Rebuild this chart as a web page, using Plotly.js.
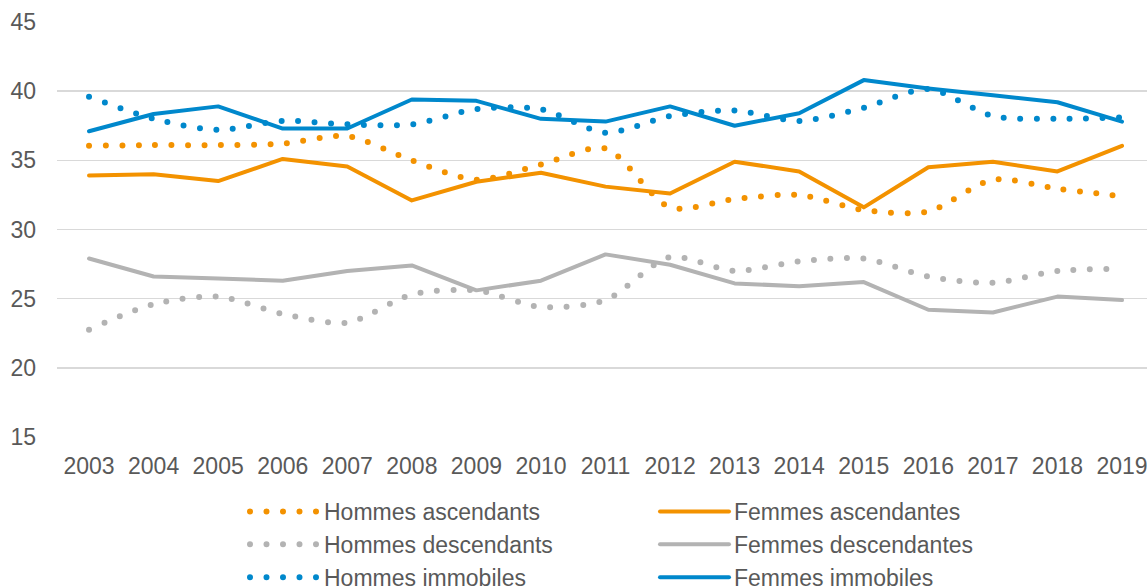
<!DOCTYPE html>
<html>
<head>
<meta charset="utf-8">
<script src="https://cdn.plot.ly/plotly-3.0.1.min.js"></script>
<style>
  html, body { margin: 0; padding: 0; background: #fff; }
  #chart { width: 1147px; height: 586px; }
  .scatterlayer path.js-line, .legend path.js-line { stroke-linecap: round; stroke-linejoin: round; }
</style>
</head>
<body>
<div id="chart"></div>
<script>
const years = ["2003","2004","2005","2006","2007","2008","2009","2010","2011","2012","2013","2014","2015","2016","2017","2018","2019"];

const hommesAscendants   = [36.05, 36.1, 36.1, 36.2, 36.75, 35.0, 33.6, 34.7, 35.85, 31.6, 32.2, 32.5, 31.4, 31.3, 33.6, 32.95, 32.4];
const femmesAscendantes  = [33.9, 34.0, 33.5, 35.1, 34.55, 32.1, 33.45, 34.1, 33.1, 32.6, 34.9, 34.2, 31.6, 34.5, 34.9, 34.2, 36.05];
const hommesDescendants  = [22.76, 24.6, 25.15, 23.9, 23.27, 25.3, 25.6, 24.4, 24.9, 28.0, 27.0, 27.7, 27.9, 26.6, 26.15, 27.0, 27.15];
const femmesDescendantes = [27.9, 26.6, 26.45, 26.3, 27.0, 27.4, 25.6, 26.3, 28.2, 27.45, 26.1, 25.9, 26.2, 24.2, 24.0, 25.15, 24.9];
const hommesImmobiles    = [39.6, 38.0, 37.2, 37.85, 37.6, 37.6, 38.7, 38.7, 37.0, 38.2, 38.6, 37.85, 38.8, 40.15, 38.2, 38.0, 38.1];
const femmesImmobiles    = [37.1, 38.35, 38.9, 37.3, 37.3, 39.4, 39.3, 38.0, 37.8, 38.9, 37.5, 38.4, 40.8, 40.2, 39.7, 39.2, 37.8];

const yTicks = [15, 20, 25, 30, 35, 40, 45];

const ORANGE = '#F39200';
const GREY = '#B3B3B3';
const BLUE = '#0088CC';
const DOTS = '0px,16.5px';

function dotted(name, y, color) {
  return { type: 'scatter', mode: 'lines', name: name, x: years, y: y,
    line: { color: color, width: 6, dash: DOTS, shape: 'spline', smoothing: 0.8 }, hoverinfo: 'skip' };
}
function solid(name, y, color) {
  return { type: 'scatter', mode: 'lines', name: name, x: years, y: y,
    line: { color: color, width: 4, shape: 'linear' }, hoverinfo: 'skip' };
}

const data = [
  dotted('Hommes ascendants', hommesAscendants, ORANGE),
  solid('Femmes ascendantes', femmesAscendantes, ORANGE),
  dotted('Hommes descendants', hommesDescendants, GREY),
  solid('Femmes descendantes', femmesDescendantes, GREY),
  dotted('Hommes immobiles', hommesImmobiles, BLUE),
  solid('Femmes immobiles', femmesImmobiles, BLUE)
];

const FONT = 'Liberation Sans, Arial, sans-serif';
const FS = 23;
const layout = {
  width: 1147, height: 586,
  margin: { l: 57, r: 0, t: 22, b: 149 },
  paper_bgcolor: '#ffffff', plot_bgcolor: '#ffffff',
  font: { family: FONT, size: FS, color: '#595959' },
  showlegend: true,
  xaxis: {
    type: 'category',
    tickvals: years, ticktext: years,
    range: [-0.496, 16.387],
    showgrid: false, zeroline: false, showline: false,
    ticks: '', ticklabelstandoff: 13,
    tickfont: { family: FONT, size: FS, color: '#595959' }
  },
  yaxis: {
    range: [15, 45],
    tickvals: yTicks,
    showgrid: true, gridcolor: '#D9D9D9', gridwidth: 1.5,
    zeroline: false, showline: false, ticks: '',
    ticklabelstandoff: 20,
    tickfont: { family: FONT, size: FS, color: '#595959' }
  },
  legend: {
    orientation: 'h',
    xref: 'container', yref: 'container',
    x: 0.2136, xanchor: 'left',
    y: 0.1638, yanchor: 'top',
    itemwidth: 69,
    entrywidth: 326, entrywidthmode: 'pixels',
    font: { family: FONT, size: FS, color: '#595959' },
    bgcolor: 'rgba(0,0,0,0)', borderwidth: 0,
    traceorder: 'normal'
  }
};

Plotly.newPlot('chart', data, layout, { staticPlot: true, displayModeBar: false });
</script>
</body>
</html>
